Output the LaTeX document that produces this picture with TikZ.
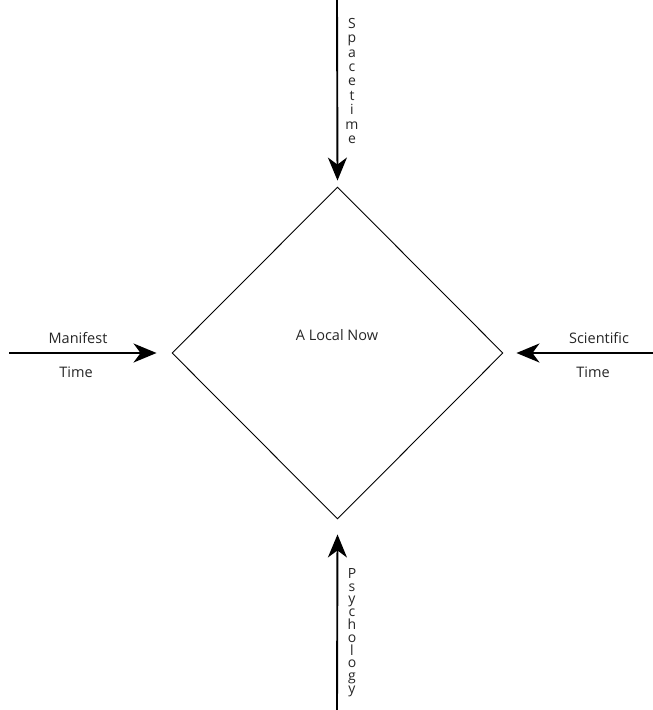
\documentclass[tikz,border=0pt]{standalone}
\usepackage{fontspec}
\setmainfont{Open Sans}
\usetikzlibrary{shapes.geometric,arrows.meta}
\begin{document}
\begin{tikzpicture}[x=1pt,y=-1pt,
  lbl/.style={font=\fontsize{14.5}{14.4}\selectfont, inner sep=0pt, anchor=base, text=black!85},
  arr/.style={line width=1.9pt, -{Stealth[length=23pt,width=19pt,inset=7pt]}},
  box/.style={shape=diamond, draw, line width=0.9pt, inner sep=0pt}]
\useasboundingbox (0,0) rectangle (653,710);
\node[box, minimum width=331pt, minimum height=332pt] (d) at (337.5,353) {};
\node[lbl] (now) at (337,340) {A Local Now};
\coordinate (ts) at (337,0);
\coordinate (bs) at (337,710);
\coordinate (ls) at (9,353);
\coordinate (rs) at (653,353);
\draw[arr] (ts) -- ([yshift=6pt]d.north);
\draw[arr] (bs) -- ([yshift=-15pt]d.south);
\draw[arr] (ls) -- ([xshift=-15pt]d.west);
\draw[arr] (rs) -- ([xshift=13pt]d.east);
\node[lbl] (man) at (78,343) {Manifest};
\node[lbl] (mt) at (76,377) {Time};
\node[lbl] (sci) at (599,343) {Scientific};
\node[lbl] (st) at (593,377) {Time};
\node[lbl, anchor=north, align=center, font=\fontsize{14}{14.4}\selectfont] (sp) at (352,18) {S\\p\\a\\c\\e\\t\\i\\m\\e};
\node[lbl, anchor=north, align=center, font=\fontsize{14}{12.8}\selectfont] (ps) at (352,568) {P\\s\\y\\c\\h\\o\\l\\o\\g\\y};
\end{tikzpicture}
\end{document}
